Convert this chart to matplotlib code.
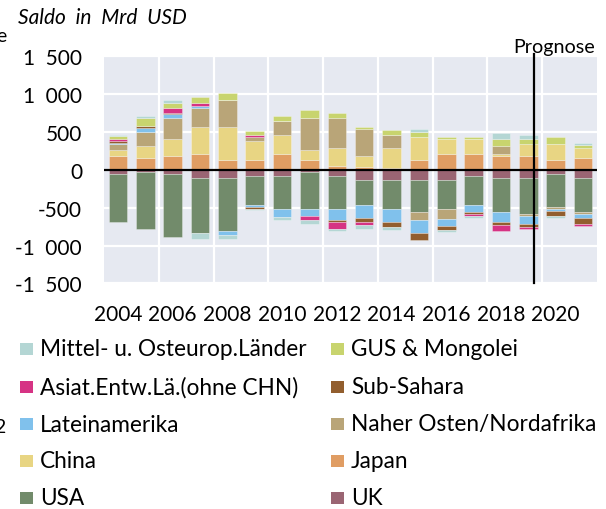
import matplotlib
matplotlib.use("Agg")
import matplotlib.pyplot as plt
import numpy as np
from matplotlib.patches import Rectangle

# Leistungsbilanzsaldo nach Regionen, Mrd USD (ab 2019 Prognose)
years = np.arange(2004, 2022)
uk = [-57, -35, -57, -110, -110, -88, -88, -35, -88, -141, -141, -141, -141, -88, -110, -110, -62, -110]
usa = [-628, -750, -827, -720, -698, -376, -429, -482, -429, -323, -376, -420, -380, -376, -451, -473, -429, -451]
japan = [186, 159, 186, 212, 133, 133, 208, 133, 53, 31, 22, 133, 208, 208, 186, 186, 133, 159]
china = [80, 150, 225, 354, 429, 252, 252, 128, 234, 155, 265, 300, 203, 203, 27, 150, 203, 128]
naher_osten = [71, 195, 270, 243, 354, 49, 177, 420, 393, 345, 168, -102, -128, 0, 97, -27, -27, -27]
lateinamerika = [22, 53, 53, 27, -53, -27, -102, -93, -146, -177, -172, -172, -97, -97, -128, -102, -22, -53]
sub_sahara = [15, 22, 18, 0, 0, -22, 0, 0, -27, -49, -71, -97, -49, -22, -44, -49, -71, -71]
asiat = [27, 0, 57, 49, 0, 22, 0, -53, -93, -44, 0, 0, 0, -27, -75, -27, 0, -27]
gus = [44, 100, 75, 71, 93, 49, 71, 102, 75, 27, 75, 71, 27, 22, 97, 75, 102, 44]
moe = [18, 27, 31, -84, -53, -22, -44, -49, -27, -49, -35, 27, -27, -22, 75, 49, -22, 27]

# Stapelreihenfolge (von der Nulllinie aus)
series = [
    ("UK", uk, "#9A6573"),
    ("USA", usa, "#728B6B"),
    ("Japan", japan, "#E09D63"),
    ("China", china, "#E8D583"),
    ("Naher Osten/Nordafrika", naher_osten, "#B9A578"),
    ("Lateinamerika", lateinamerika, "#80C1EC"),
    ("Sub-Sahara", sub_sahara, "#925E2E"),
    ("Asiat.Entw.Lä.(ohne CHN)", asiat, "#D63384"),
    ("GUS & Mongolei", gus, "#C8D46E"),
    ("Mittel- u. Osteurop.Länder", moe, "#B4D6D4"),
]

year_ticks = np.arange(2004, 2021, 2)
y_ticks = [-1500, -1000, -500, 0, 500, 1000, 1500]
y_tick_labels = ["-1\u2002500", "-1\u2002000", "-500", "0", "500", "1\u2002000", "1\u2002500"]
prognose_x = 2019.2

plt.rcParams["font.family"] = ["Lato", "DejaVu Sans"]
fs = 15
fs_legend = 16.3

fig = plt.figure(figsize=(6.06, 5.10), dpi=100)
ax = fig.add_axes([0.1721, 0.4422, 0.8125, 0.446])
ax.set_facecolor("#E6E9F1")

pos_base = np.zeros(len(years))
neg_base = np.zeros(len(years))
for name, vals, color in series:
    v = np.asarray(vals, dtype=float)
    bottom = np.where(v >= 0, pos_base, neg_base)
    ax.bar(years, v, bottom=bottom, width=0.68, color=color,
           edgecolor=(1, 1, 1, 0.35), linewidth=0.6, zorder=3)
    pos_base += np.clip(v, 0, None)
    neg_base += np.clip(v, None, 0)

ax.set_xlim(2003.5, 2021.5)
ax.set_ylim(-1500, 1500)
ax.set_yticks(y_ticks)
ax.set_yticklabels(y_tick_labels, fontsize=fs)
ax.set_xticks(year_ticks)
ax.set_xticklabels([str(y) for y in year_ticks], fontsize=fs)
ax.set_xticks(np.arange(2005.5, 2021, 2), minor=True)
ax.tick_params(axis="both", which="both", length=0)
ax.tick_params(axis="x", pad=15)
ax.tick_params(axis="y", pad=16)
ax.grid(axis="y", which="major", color="white", linewidth=1.6, zorder=0)
ax.grid(axis="x", which="minor", color="white", linewidth=1.6, zorder=0)
ax.grid(axis="x", which="major", visible=False)
ax.set_axisbelow(True)
for sp in ax.spines.values():
    sp.set_visible(False)

ax.axhline(0, color="black", linewidth=1.6, zorder=4)
ax.axvline(prognose_x, ymin=0, ymax=1.01, color="black", linewidth=1.6,
           clip_on=False, zorder=5)
ax.text(2018.45, 1553, "Prognose", fontsize=14.2, ha="left", va="baseline")

fig.text(18 / 606, 1 - 18 / 510, "Saldo  in  Mrd  USD", fontsize=fs,
         style="italic", va="center", ha="left")
# abgeschnittene Reste am linken Rand
fig.text(-0.007, 1 - 37 / 510, "e", fontsize=14, va="center", ha="left")
fig.text(-0.009, 1 - 428 / 510, "2", fontsize=14, va="center", ha="left")

# Legende, zeilenweise in zwei Spalten
row_y = [350, 388, 425, 462, 499]
col_x = [20, 331]
for i, (name, vals, color) in enumerate(series[::-1]):
    r, c = divmod(i, 2)
    yc = 1 - row_y[r] / 510
    fig.add_artist(Rectangle((col_x[c] / 606, yc - 6 / 510), 13 / 606, 12 / 510,
                             transform=fig.transFigure, facecolor=color,
                             edgecolor="none"))
    fig.text((col_x[c] + 20) / 606, yc, name, fontsize=fs_legend,
             va="center", ha="left")

fig.savefig("out.png", dpi=100)
